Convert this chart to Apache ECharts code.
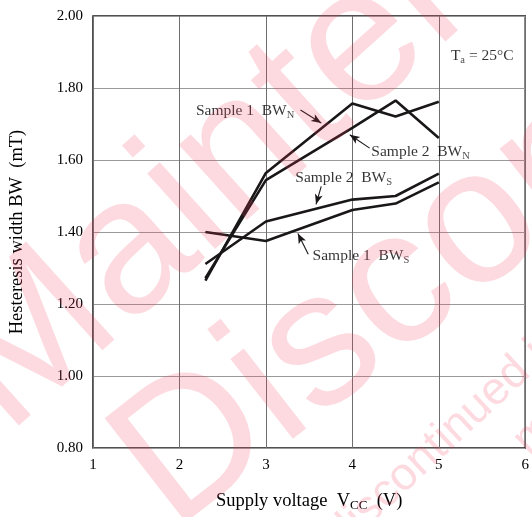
<!DOCTYPE html>
<html>
<head>
<meta charset="utf-8">
<script src="https://cdn.jsdelivr.net/npm/echarts@6/dist/echarts.min.js"></script>
<style>
html,body{margin:0;padding:0;background:#fff;}
#c{width:532px;height:517px;}
</style>
</head>
<body>
<div id="c"></div>
<script>
// ---- data ----
var vcc = [2.3, 3.0, 4.0, 4.5, 5.0];
var sample1BWN = [1.265, 1.564, 1.757, 1.721, 1.762];
var sample2BWN = [1.272, 1.544, 1.689, 1.765, 1.661];
var sample2BWS = [1.311, 1.429, 1.490, 1.500, 1.562];
var sample1BWS = [1.400, 1.375, 1.461, 1.479, 1.538];
var xTicks = [1, 2, 3, 4, 5, 6];
var yTicks = [0.80, 1.00, 1.20, 1.40, 1.60, 1.80, 2.00];

// annotation labels: [x, y, text]
var labelAnchors = [
  [2.19, 1.737, 'Sample 1  BW{s|N}'],
  [4.22, 1.623, 'Sample 2  BW{s|N}'],
  [3.34, 1.550, 'Sample 2  BW{s|S}'],
  [3.54, 1.334, 'Sample 1  BW{s|S}'],
  [5.14, 1.889, 'T{s|a} = 25°C']
];
// arrows: [x1, y1, x2 (tip), y2 (tip)]
var arrows = [
  [3.40, 1.739, 3.64, 1.703],
  [4.20, 1.633, 3.97, 1.670],
  [3.64, 1.527, 3.58, 1.477],
  [3.49, 1.338, 3.37, 1.396]
];

var INK = '#1a1718';
var SERIF = '"Liberation Serif", "Times New Roman", serif';
var rich = {
  s: { fontFamily: SERIF, fontSize: 10.5, color: INK, verticalAlign: 'bottom', lineHeight: 10 }
};

function zip(xs, ys) { return xs.map(function (x, i) { return [x, ys[i]]; }); }

function lineSeries(name, ys) {
  return {
    name: name, type: 'line', data: zip(vcc, ys), showSymbol: false, symbol: 'none',
    lineStyle: { color: INK, width: 2.6 }, z: 3
  };
}

var chart = echarts.init(document.getElementById('c'), null, { renderer: 'canvas' });
var wmFill = 'rgba(240,60,90,0.19)';
var WM = '"Liberation Sans", Arial, sans-serif';
function wm(text, x, y, deg, size) {
  return { type: 'text', x: x, y: y, rotation: deg * Math.PI / 180, z: 100, silent: true,
    style: { text: text, font: size + 'px ' + WM, fill: wmFill,
      textAlign: 'left', textVerticalAlign: 'bottom', align: 'left', verticalAlign: 'bottom' } };
}
chart.setOption({
  animation: false,
  backgroundColor: '#fff',
  grid: { left: 92, right: 5, top: 16, bottom: 67, show: true, borderColor: INK, borderWidth: 1.5, backgroundColor: 'transparent' },
  xAxis: {
    type: 'value', min: 1, max: 6, interval: 1,
    axisLine: { show: false }, axisTick: { show: false },
    splitLine: { show: true, lineStyle: { color: '#6e6e6e', width: 1 } },
    axisLabel: { fontFamily: SERIF, fontSize: 15, color: '#000', margin: 10,
      formatter: function (v) { return xTicks.indexOf(v) >= 0 ? String(v) : ''; } },
    name: 'Supply voltage  V{s|CC}  (V)', nameLocation: 'middle', nameGap: 42,
    nameTextStyle: { fontFamily: SERIF, fontSize: 18.5, color: '#000', lineHeight: 22,
      rich: { s: { fontFamily: SERIF, fontSize: 13, color: '#000', verticalAlign: 'bottom', lineHeight: 13 } } }
  },
  yAxis: {
    type: 'value', min: 0.8, max: 2.0, interval: 0.2,
    axisLine: { show: false }, axisTick: { show: false },
    splitLine: { show: true, lineStyle: { color: '#9a9a9a', width: 1.2 } },
    axisLabel: { fontFamily: SERIF, fontSize: 15, color: '#000', margin: 10,
      formatter: function (v) { return v.toFixed(2); } },
    name: 'Hesteresis width BW  (mT)', nameLocation: 'middle', nameGap: 66,
    nameTextStyle: { fontFamily: SERIF, fontSize: 18.5, color: '#000' }
  },
  series: [
    lineSeries('Sample 1 BWN', sample1BWN),
    lineSeries('Sample 2 BWN', sample2BWN),
    lineSeries('Sample 2 BWS', sample2BWS),
    lineSeries('Sample 1 BWS', sample1BWS),
    {
      name: 'labels', type: 'scatter', symbolSize: 0, z: 4,
      data: labelAnchors.map(function (a) { return { value: [a[0], a[1]], text: a[2] }; }),
      label: {
        show: true, position: 'right', distance: 0,
        fontFamily: SERIF, fontSize: 15.5, color: '#000', lineHeight: 20,
        formatter: function (p) { return p.data.text; },
        rich: rich
      },
      markLine: {
        silent: true, symbol: ['none', 'arrow'], symbolSize: [6, 10],
        lineStyle: { color: INK, width: 1.1, type: 'solid' },
        label: { show: false },
        data: arrows.map(function (a) { return [{ coord: [a[0], a[1]] }, { coord: [a[2], a[3]] }]; })
      }
    }
  ],
  graphic: [
    wm('Maintenance', 36, 468, 42, 192),
    wm('Discontinued', 200, 566, 38, 192),
    wm('discontinued including', 350, 558, 43, 46),
    wm('maintenance type', 536, 464, 43, 46)
  ]
});
</script>
</body>
</html>
